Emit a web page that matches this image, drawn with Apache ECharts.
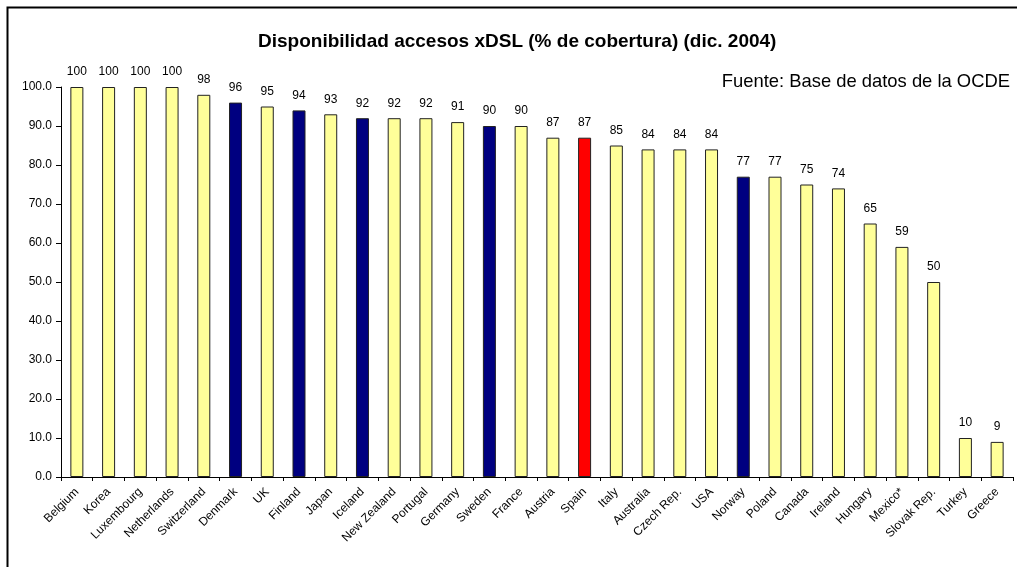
<!DOCTYPE html>
<html>
<head>
<meta charset="utf-8">
<script src="https://cdn.jsdelivr.net/npm/echarts@6/dist/echarts.min.js"></script>
<style>html,body{margin:0;padding:0;background:#fff}#c{width:1017px;height:567px}</style>
</head>
<body>
<div id="c"></div>
<script>
const categories = ['Belgium','Korea','Luxembourg','Netherlands','Switzerland','Denmark','UK','Finland','Japan','Iceland','New Zealand','Portugal','Germany','Sweden','France','Austria','Spain','Italy','Australia','Czech Rep.','USA','Norway','Poland','Canada','Ireland','Hungary','Mexico*','Slovak Rep.','Turkey','Greece'];
const values = [100,100,100,100,98,96,95,94,93,92,92,92,91,90,90,87,87,85,84,84,84,77,77,75,74,65,59,50,10,9];
const groups = ['other','other','other','other','other','nordic','other','nordic','other','nordic','other','other','other','nordic','other','other','spain','other','other','other','other','nordic','other','other','other','other','other','other','other','other'];
const yTicks = [0,10,20,30,40,50,60,70,80,90,100];

const groupColor = {other:'#FFFF99', nordic:'#000080', spain:'#FF0000'};
const font = 'Liberation Sans, Arial, sans-serif';

const chart = echarts.init(document.getElementById('c'));
chart.setOption({
  animation: false,
  backgroundColor: '#fff',
  graphic: [{
    type: 'rect', left: 5, top: 5, shape: {width: 1030, height: 580},
    style: {fill: 'none', stroke: '#000', lineWidth: 2}, silent: true, z: -1
  }],
  title: [{
    text: 'Disponibilidad accesos xDSL (% de cobertura) (dic. 2004)',
    left: 253, top: 27,
    textStyle: {fontFamily: font, fontSize: 19, fontWeight: 'bold', color: '#000'}
  }, {
    text: 'Fuente: Base de datos de la OCDE',
    right: 2, top: 68,
    textStyle: {fontFamily: font, fontSize: 18.4, fontWeight: 'normal', color: '#000'}
  }],
  grid: {left: 61, right: 4, top: 87, bottom: 90},
  xAxis: {
    type: 'category', data: categories, boundaryGap: true,
    axisLine: {lineStyle: {color: '#000', width: 1}},
    axisTick: {show: true, length: 4, lineStyle: {color: '#000'}},
    axisLabel: {rotate: 45, fontFamily: font, fontSize: 12, color: '#000', interval: 0, margin: 13}
  },
  yAxis: {
    type: 'value', min: yTicks[0], max: yTicks[yTicks.length-1], interval: 10,
    axisLine: {show: true, lineStyle: {color: '#000', width: 1}},
    axisTick: {show: true, length: 5, lineStyle: {color: '#000'}},
    splitLine: {show: false},
    axisLabel: {fontFamily: font, fontSize: 12, color: '#000', formatter: v => v.toFixed(1), margin: 9}
  },
  series: [{
    type: 'bar',
    barWidth: 13,
    data: values.map((v, i) => ({
      value: v,
      itemStyle: {color: groupColor[groups[i]], borderColor: '#222', borderWidth: 1}
    })),
    label: {show: true, position: 'top', distance: 9, fontFamily: font, fontSize: 12, color: '#000',
      formatter: p => Math.round(p.value)}
  }]
});
</script>
</body>
</html>
